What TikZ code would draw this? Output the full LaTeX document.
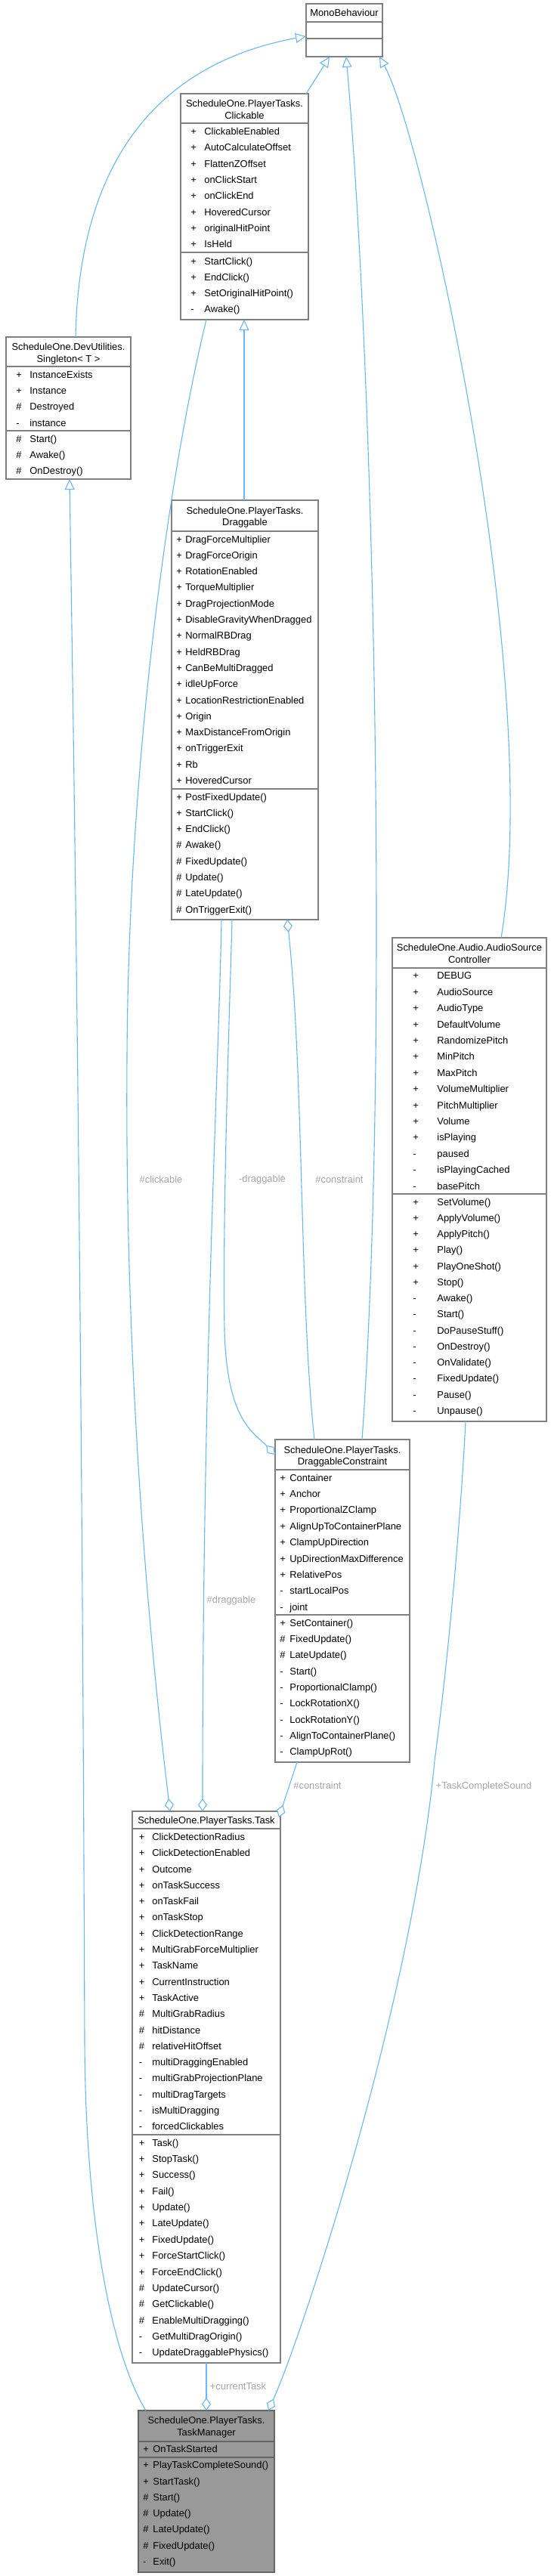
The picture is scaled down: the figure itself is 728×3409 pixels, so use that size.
\documentclass[tikz,border=0pt]{standalone}
\usepackage{fontspec}
\setmainfont{Liberation Sans}
\usetikzlibrary{arrows.meta,calc,fit}
\definecolor{edgeblue}{HTML}{63B8FF}
\definecolor{lblgray}{HTML}{A6A6A6}
\definecolor{bordgray}{HTML}{808080}
\definecolor{hlfill}{HTML}{999999}
\definecolor{hlbord}{HTML}{666666}
\tikzset{
 classbox/.style={draw=bordgray, line width=0.7pt, fill=white, inner sep=0pt, outer sep=0pt},
 hlbox/.style={draw=hlbord, line width=0.7pt, fill=hlfill, inner sep=0pt, outer sep=0pt},
 rowtxt/.style={font=\fontsize{6.45}{7.5}\selectfont, inner sep=0pt, anchor=base west},
 titletxt/.style={font=\fontsize{6.45}{7.5}\selectfont, inner sep=0pt, anchor=base},
 sepline/.style={draw=bordgray, line width=0.7pt},
 hlsep/.style={draw=hlbord, line width=0.7pt},
 conn/.style={draw=edgeblue, line width=0.55pt},
 inh/.style={conn, -{Triangle[open, length=7pt, width=6.5pt, fill=white]}},
 agg/.style={conn, {Diamond[open, length=8.5pt, width=6pt, fill=white]}-},
 elabel/.style={font=\fontsize{6.45}{7.5}\selectfont, text=lblgray, inner sep=0pt},
}
\newcommand{\umlbox}[6]{\node[#6, fit={(#2,#3)(#4,#5)}] (#1) {};}
% #1 x symbol, #2 x name, #3 first row centre, #4 row spacing, #5 prefix, #6 list
\newcommand{\umlrows}[6]{%
 \foreach \symb/\nm [count=\rowi from 0] in {#6}{%
  \node[rowtxt] (#5s\rowi) at ({#1},{#3+#4*\rowi+4.5}) {\symb};
  \node[rowtxt] (#5n\rowi) at ({#2},{#3+#4*\rowi+4.5}) {\nm};
 }}
\begin{document}
\begin{tikzpicture}[x=0.5pt,y=-0.5pt]
\useasboundingbox (0,0) rectangle (728,3409);
\fill[white] (0,0) rectangle (728,3409);

% ---------- MonoBehaviour
\umlbox{mono}{405}{5}{506}{75}{classbox}
\draw[sepline] (405,29) -- (506,29);
\draw[sepline] (405,51) -- (506,51);
\node[titletxt] (monot) at (455.5,22) {MonoBehaviour};

% ---------- Clickable
\umlbox{clickable}{239}{124}{408}{423}{classbox}
\draw[sepline] (239,163) -- (408,163);
\draw[sepline] (239,334) -- (408,334);
\node[titletxt] (clkt1) at (323.5,141.5) {ScheduleOne.PlayerTasks.};
\node[titletxt] (clkt2) at (323.5,157.5) {Clickable};
\umlrows{252}{270}{174}{21.33}{clka}{+/ClickableEnabled,+/AutoCalculateOffset,+/FlattenZOffset,+/onClickStart,+/onClickEnd,+/HoveredCursor,+/originalHitPoint,+/IsHeld}
\umlrows{252}{270}{345.7}{21.2}{clkm}{+/StartClick(),+/EndClick(),+/SetOriginalHitPoint(),-/Awake()}

% ---------- Singleton
\umlbox{singleton}{8}{446}{173}{634}{classbox}
\draw[sepline] (8,485) -- (173,485);
\draw[sepline] (8,570) -- (173,570);
\node[titletxt] (sgt1) at (90.5,463.5) {ScheduleOne.DevUtilities.};
\node[titletxt] (sgt2) at (90.5,479.5) {Singleton< T >};
\umlrows{21}{39}{495.7}{21.3}{sga}{+/InstanceExists,+/Instance,\#/Destroyed,-/instance}
\umlrows{21}{39}{580.7}{21.3}{sgm}{\#/Start(),\#/Awake(),\#/OnDestroy()}

% ---------- Draggable
\umlbox{draggable}{227}{662}{421}{1217}{classbox}
\draw[sepline] (227,703) -- (421,703);
\draw[sepline] (227,1044) -- (421,1044);
\node[titletxt] (drt1) at (324,680.5) {ScheduleOne.PlayerTasks.};
\node[titletxt] (drt2) at (324,695.5) {Draggable};
\umlrows{233}{245}{713.5}{21.3}{dra}{+/DragForceMultiplier,+/DragForceOrigin,+/RotationEnabled,+/TorqueMultiplier,+/DragProjectionMode,+/DisableGravityWhenDragged,+/NormalRBDrag,+/HeldRBDrag,+/CanBeMultiDragged,+/idleUpForce,+/LocationRestrictionEnabled,+/Origin,+/MaxDistanceFromOrigin,+/onTriggerExit,+/Rb,+/HoveredCursor}
\umlrows{233}{245}{1054.5}{21.3}{drm}{+/PostFixedUpdate(),+/StartClick(),+/EndClick(),\#/Awake(),\#/FixedUpdate(),\#/Update(),\#/LateUpdate(),\#/OnTriggerExit()}

% ---------- AudioSourceController
\umlbox{audio}{519}{1241}{723}{1881}{classbox}
\draw[sepline] (519,1281) -- (723,1281);
\draw[sepline] (519,1580) -- (723,1580);
\node[titletxt] (aut1) at (621,1258.3) {ScheduleOne.Audio.AudioSource};
\node[titletxt] (aut2) at (621,1274.7) {Controller};
\umlrows{546}{578}{1291.3}{21.4}{aua}{+/DEBUG,+/AudioSource,+/AudioType,+/DefaultVolume,+/RandomizePitch,+/MinPitch,+/MaxPitch,+/VolumeMultiplier,+/PitchMultiplier,+/Volume,+/isPlaying,-/paused,-/isPlayingCached,-/basePitch}
\umlrows{546}{578}{1590.5}{21.27}{aum}{+/SetVolume(),+/ApplyVolume(),+/ApplyPitch(),+/Play(),+/PlayOneShot(),+/Stop(),-/Awake(),-/Start(),-/DoPauseStuff(),-/OnDestroy(),-/OnValidate(),-/FixedUpdate(),-/Pause(),-/Unpause()}

% ---------- DraggableConstraint
\umlbox{dc}{364}{1905}{542}{2332}{classbox}
\draw[sepline] (364,1945) -- (542,1945);
\draw[sepline] (364,2137) -- (542,2137);
\node[titletxt] (dct1) at (453,1923.5) {ScheduleOne.PlayerTasks.};
\node[titletxt] (dct2) at (453,1938.5) {DraggableConstraint};
\umlrows{370}{383}{1955.7}{21.375}{dca}{+/Container,+/Anchor,+/ProportionalZClamp,+/AlignUpToContainerPlane,+/ClampUpDirection,+/UpDirectionMaxDifference,+/RelativePos,-/startLocalPos,-/joint}
\umlrows{370}{383}{2147.7}{21.3}{dcm}{+/SetContainer(),\#/FixedUpdate(),\#/LateUpdate(),-/Start(),-/ProportionalClamp(),-/LockRotationX(),-/LockRotationY(),-/AlignToContainerPlane(),-/ClampUpRot()}

% ---------- Task
\umlbox{task}{175}{2397}{371}{3127}{classbox}
\draw[sepline] (175,2420) -- (371,2420);
\draw[sepline] (175,2825) -- (371,2825);
\node[titletxt] (tkt1) at (273,2413.5) {ScheduleOne.PlayerTasks.Task};
\umlrows{183.5}{201}{2430.9}{21.3}{tka}{+/ClickDetectionRadius,+/ClickDetectionEnabled,+/Outcome,+/onTaskSuccess,+/onTaskFail,+/onTaskStop,+/ClickDetectionRange,+/MultiGrabForceMultiplier,+/TaskName,+/CurrentInstruction,+/TaskActive,\#/MultiGrabRadius,\#/hitDistance,\#/relativeHitOffset,-/multiDraggingEnabled,-/multiGrabProjectionPlane,-/multiDragTargets,-/isMultiDragging,-/forcedClickables}
\umlrows{183.5}{201}{2835.7}{21.35}{tkm}{+/Task(),+/StopTask(),+/Success(),+/Fail(),+/Update(),+/LateUpdate(),+/FixedUpdate(),+/ForceStartClick(),+/ForceEndClick(),\#/UpdateCursor(),\#/GetClickable(),\#/EnableMultiDragging(),-/GetMultiDragOrigin(),-/UpdateDraggablePhysics()}

% ---------- TaskManager
\umlbox{tm}{183}{3190}{363}{3404}{hlbox}
\draw[hlsep] (183,3231) -- (363,3231);
\draw[hlsep] (183,3252) -- (363,3252);
\node[titletxt] (tmt1) at (273,3207.5) {ScheduleOne.PlayerTasks.};
\node[titletxt] (tmt2) at (273,3223.5) {TaskManager};
\umlrows{189}{202}{3241}{21.3}{tma}{+/OnTaskStarted}
\umlrows{189}{202}{3262.3}{21.28}{tmm}{+/PlayTaskCompleteSound(),+/StartTask(),\#/Start(),\#/Update(),\#/LateUpdate(),\#/FixedUpdate(),-/Exit()}

% ---------- inheritance
\draw[inh] ($(clickable.north east)+(-3,0)$) -- ($(mono.south west)+(31,0)$);
\draw[inh] ($(singleton.north west)+(92,0)$) .. controls (105,190) and (230,80) .. ($(mono.south west)+(0,-27)$);
\draw[inh] ($(draggable.north west)+(96,0)$) -- ($(clickable.south west)+(84,0)$);
\draw[inh] ($(dc.north west)+(115,0)$) .. controls (515,1400) and (495,500) .. ($(mono.south west)+(53,0)$);
\draw[inh] ($(audio.north west)+(144,0)$) .. controls (720,900) and (560,180) .. ($(mono.south east)+(-4,0)$);
\draw[inh] ($(tm.north west)+(10,0)$) .. controls (150,3120) and (113,2950) .. (112,2700) .. controls (108,1600) and (96,900) .. ($(singleton.south west)+(84,0)$);

% ---------- aggregation
\draw[agg] ($(task.north west)+(50,0)$) .. controls (195,2150) and (165,1800) .. (168,1400) .. controls (170,1000) and (225,620) .. ($(clickable.south west)+(34,0)$);
\draw[agg] ($(task.north west)+(93,0)$) .. controls (268,1800) and (290,1400) .. ($(draggable.south west)+(66,0)$);
\draw[agg] ($(dc.north west)+(0,20)$) .. controls (335,1895) and (300,1880) .. (297,1760) .. controls (294,1600) and (305,1300) .. ($(draggable.south west)+(80,0)$);
\draw[agg] ($(draggable.south west)+(153,0)$) .. controls (402,1420) and (396,1720) .. ($(dc.north west)+(52,0)$);
\draw[agg] ($(task.north east)+(-2,8)$) -- ($(dc.south west)+(29,0)$);
\draw[agg] ($(tm.north east)+(-8,0)$) .. controls (400,3090) and (545,2650) .. (575,2330) .. controls (595,2180) and (610,2000) .. ($(audio.south west)+(97,0)$);
\draw[agg] ($(tm.north west)+(90,0)$) -- ($(task.south west)+(98,0)$);

% ---------- edge labels
\node[elabel] (lb1) at (213,1561) {\#clickable};
\node[elabel] (lb2) at (347,1561) {-draggable};
\node[elabel] (lb3) at (449,1561) {\#constraint};
\node[elabel] (lb4) at (306,2118) {\#draggable};
\node[elabel] (lb5) at (420,2363) {\#constraint};
\node[elabel] (lb6) at (640,2364) {+TaskCompleteSound};
\node[elabel] (lb7) at (315,3158) {+currentTask};
\end{tikzpicture}
\end{document}
